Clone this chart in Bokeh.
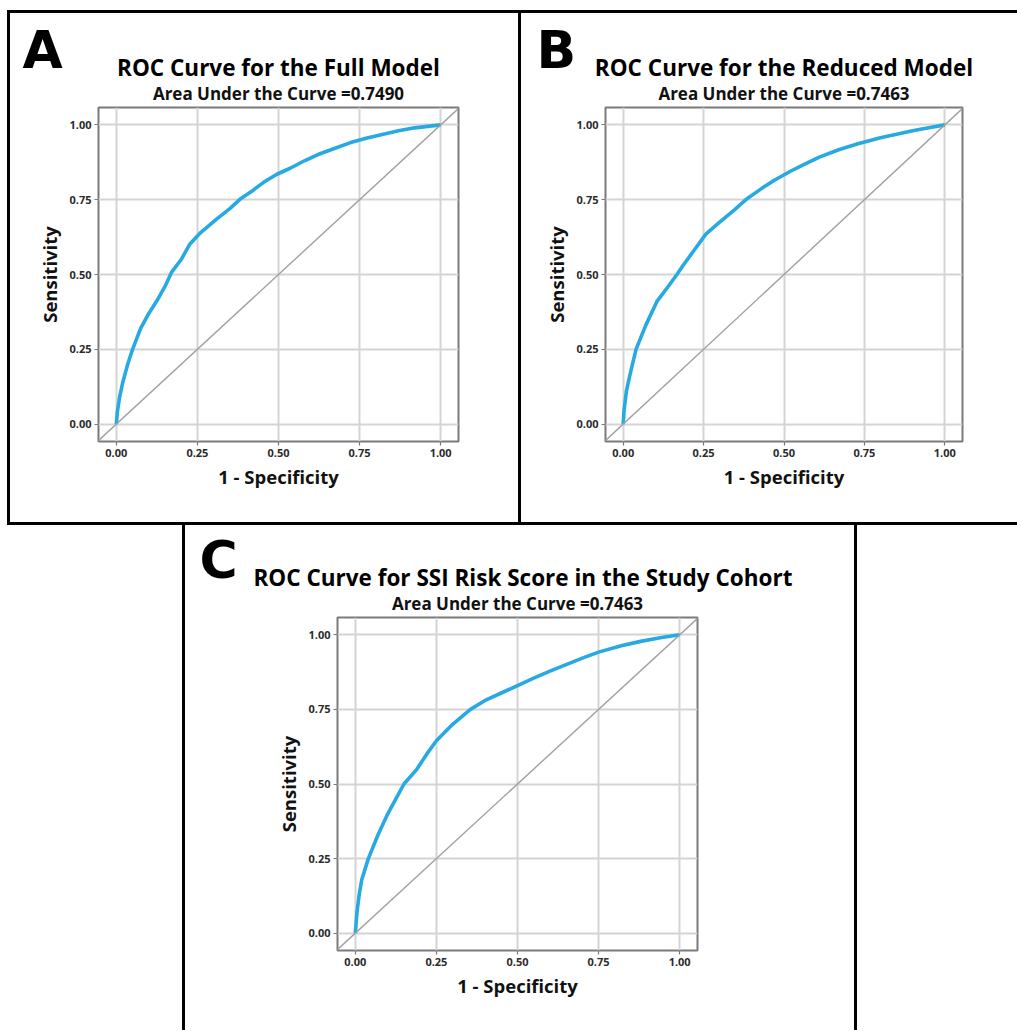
from bokeh.plotting import figure
from bokeh.layouts import column, row
from bokeh.models import Title, Slope, Spacer, FixedTicker, Range1d, NumeralTickFormatter
from bokeh.embed import file_html
from bokeh.resources import INLINE

# ---------------- data ----------------
tick_values = [0.0, 0.25, 0.5, 0.75, 1.0]

fpr_full = [0.0, 0.003, 0.01, 0.02, 0.035, 0.05, 0.075, 0.10, 0.125, 0.15, 0.17, 0.20, 0.227,
            0.26, 0.31, 0.35, 0.382, 0.42, 0.454, 0.495, 0.536, 0.58, 0.62, 0.67, 0.72, 0.77,
            0.82, 0.87, 0.92, 0.96, 1.0]
tpr_full = [0.0, 0.04, 0.09, 0.14, 0.20, 0.25, 0.32, 0.37, 0.412, 0.46, 0.507, 0.55, 0.602,
            0.64, 0.686, 0.72, 0.752, 0.78, 0.808, 0.835, 0.855, 0.88, 0.90, 0.92, 0.94, 0.955,
            0.968, 0.98, 0.99, 0.995, 1.0]

fpr_reduced = [0.0, 0.003, 0.01, 0.02, 0.04, 0.07, 0.105, 0.14, 0.167, 0.186, 0.22, 0.257,
               0.30, 0.345, 0.387, 0.43, 0.47, 0.52, 0.563, 0.61, 0.67, 0.73, 0.80, 0.85, 0.90,
               0.95, 1.0]
tpr_reduced = [0.0, 0.05, 0.11, 0.16, 0.25, 0.33, 0.41, 0.46, 0.50, 0.53, 0.58, 0.635,
               0.675, 0.715, 0.755, 0.787, 0.815, 0.845, 0.868, 0.892, 0.917, 0.937, 0.957, 0.969, 0.98,
               0.99, 1.0]

fpr_score = [0.0, 0.005, 0.012, 0.02, 0.04, 0.07, 0.10, 0.13, 0.15, 0.19, 0.22, 0.25, 0.30,
             0.355, 0.40, 0.45, 0.50, 0.55, 0.60, 0.65, 0.70, 0.75, 0.82, 0.88, 0.94, 1.0]
tpr_score = [0.0, 0.07, 0.13, 0.18, 0.25, 0.33, 0.40, 0.46, 0.50, 0.55, 0.60, 0.645, 0.70,
             0.75, 0.78, 0.805, 0.83, 0.855, 0.878, 0.90, 0.922, 0.942, 0.963, 0.978, 0.99, 1.0]

panel_letters = ["A", "B", "C"]
panel_titles = ["ROC Curve for the Full Model",
                "ROC Curve for the Reduced Model",
                "ROC Curve for SSI Risk Score in the Study Cohort"]
auc_values = ["0.7490", "0.7463", "0.7463"]
x_label = "1 - Specificity"
y_label = "Sensitivity"

FONT = "Open Sans"
CURVE = "#27a9e1"


def make_panel(fpr, tpr, letter, title, auc, width, height, borders, letter_offset,
               title_align="center", title_offset=0):
    ml, mr, mt, mb = borders
    p = figure(width=width, height=height, output_backend="svg", toolbar_location=None,
               x_range=Range1d(-0.055, 1.055), y_range=Range1d(-0.058, 1.058),
               min_border_left=ml, min_border_right=mr, min_border_top=mt, min_border_bottom=mb,
               title=None)
    p.background_fill_color = "white"
    p.border_fill_color = "white"
    p.outline_line_color = "#7a7a7a"
    p.outline_line_width = 2

    for ax in (p.xaxis, p.yaxis):
        ax.ticker = FixedTicker(ticks=tick_values)
        ax.formatter = NumeralTickFormatter(format="0.00")
        ax.axis_line_color = None
        ax.major_tick_line_color = "#7a7a7a"
        ax.major_tick_line_width = 1.2
        ax.major_tick_out = 4
        ax.major_tick_in = 0
        ax.minor_tick_line_color = None
        ax.major_label_text_font = FONT
        ax.major_label_text_font_style = "bold"
        ax.major_label_text_font_size = "11px"
        ax.major_label_text_color = "#2b2b2b"
        ax.major_label_standoff = 3
        ax.axis_label_text_font = FONT
        ax.axis_label_text_font_style = "bold"
        ax.axis_label_text_font_size = "18.5px"
        ax.axis_label_text_color = "#111111"
        ax.axis_label_standoff = 4
    p.xaxis.axis_label = x_label
    p.yaxis.axis_label = y_label

    p.grid.grid_line_color = "#d4d4d4"
    p.grid.grid_line_width = 2
    p.grid.ticker = FixedTicker(ticks=tick_values)

    p.add_layout(Slope(gradient=1, y_intercept=0, line_color="#a0a0a0", line_width=1.4))
    p.line(fpr, tpr, line_color=CURVE, line_width=3.6, line_join="round")

    p.add_layout(Title(text="Area Under the Curve =" + auc, align="center",
                       text_font=FONT, text_font_style="bold", text_font_size="17px",
                       text_color="#111111", standoff=6), "above")
    p.add_layout(Title(text=title, align=title_align, offset=title_offset,
                       text_font=FONT, text_font_style="bold", text_font_size="22.5px",
                       text_color="black", standoff=-13), "above")
    p.add_layout(Title(text=letter, align="left", offset=letter_offset,
                       text_font="DejaVu Sans", text_font_style="bold", text_font_size="52px",
                       text_color="black", standoff=-46), "above")
    return p


def black(w, h):
    return Spacer(width=w, height=h, styles={"background-color": "black"})


pA = make_panel(fpr_full, tpr_full, panel_letters[0], panel_titles[0], auc_values[0],
                508, 509, (88, 60, 94, 81), -76)
pB = make_panel(fpr_reduced, tpr_reduced, panel_letters[1], panel_titles[1], auc_values[1],
                496, 509, (84, 55, 94, 81), -69)
pC = make_panel(fpr_score, tpr_score, panel_letters[2], panel_titles[2], auc_values[2],
                669, 505, (152, 157, 92, 80), -138, title_align="left", title_offset=-84)

page = column(
    Spacer(width=10, height=10),
    row(Spacer(width=7, height=3), black(1010, 3)),
    row(Spacer(width=7, height=509), black(3, 509), pA, black(3, 509), pB),
    row(Spacer(width=7, height=3), black(1010, 3)),
    row(Spacer(width=182, height=505), black(3, 505), pC, black(3, 505)),
)

open("out.html", "w").write(file_html(page, INLINE))
